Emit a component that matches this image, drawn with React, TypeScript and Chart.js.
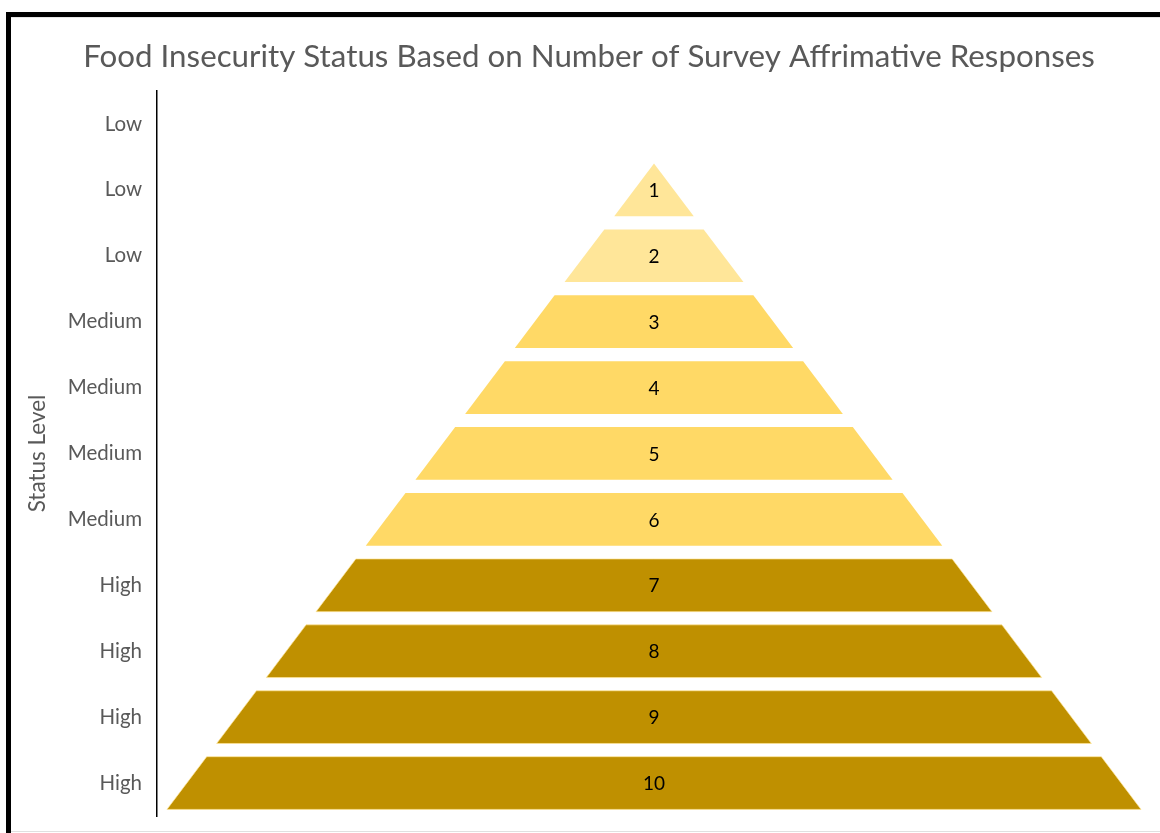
import React, { useEffect, useRef } from 'react';
import { Chart, registerables } from 'chart.js';

Chart.register(...registerables);

// ---- data ----
const chartTitle = 'Food Insecurity Status Based on Number of Survey Affrimative Responses';
const yAxisTitle = 'Status Level';
const statusLabels = ['Low', 'Low', 'Low', 'Medium', 'Medium', 'Medium', 'Medium', 'High', 'High', 'High', 'High'];
// number of affirmative responses shown in each row (first row has no slice)
const responses: (number | null)[] = [null, 1, 2, 3, 4, 5, 6, 7, 8, 9, 10];
const statusColors: Record<string, string> = {
  Low: '#FFE699',
  Medium: '#FFD966',
  High: '#BF9000',
};
const maxResponses = 10;

const FONT = 'Lato, "Open Sans", sans-serif';

const pyramidPlugin = {
  id: 'pyramidSlices',
  afterDatasetsDraw(chart: any) {
    const meta = chart.getDatasetMeta(0);
    const xs = chart.scales.x;
    const ys = chart.scales.y;
    const ctx: CanvasRenderingContext2D = chart.ctx;
    const cx = xs.getPixelForValue(0);
    const unit = xs.getPixelForValue(1) - cx;
    const band = ys.getPixelForValue(1) - ys.getPixelForValue(0);
    ctx.save();
    meta.data.forEach((el: any, i: number) => {
      const k = responses[i];
      if (k == null) return;
      const { y, height } = el.getProps(['y', 'height'], true);
      const top = y - height / 2;
      const bot = y + height / 2;
      const topHW = (k - 1) * unit;
      const botHW = topHW + (unit * height) / band;
      ctx.beginPath();
      ctx.moveTo(cx - topHW, top);
      ctx.lineTo(cx + topHW, top);
      ctx.lineTo(cx + botHW, bot);
      ctx.lineTo(cx - botHW, bot);
      ctx.closePath();
      ctx.fillStyle = statusColors[statusLabels[i]];
      ctx.fill();
      if (statusLabels[i] === 'High') {
        ctx.strokeStyle = 'rgba(255, 230, 153, 0.7)';
        ctx.lineWidth = 1;
        ctx.stroke();
      }
      ctx.fillStyle = '#000000';
      ctx.font = `19px ${FONT}`;
      ctx.textAlign = 'center';
      ctx.textBaseline = 'middle';
      ctx.fillText(String(k), cx, y + 1);
    });
    ctx.restore();
  },
};

export default function App() {
  const ref = useRef<HTMLCanvasElement | null>(null);

  useEffect(() => {
    if (!ref.current) return;
    const chart = new Chart(ref.current, {
      type: 'bar',
      data: {
        labels: statusLabels,
        datasets: [
          {
            label: 'Responses',
            data: responses.map((k) => (k == null ? null : [-k, k])) as any,
            backgroundColor: 'rgba(0,0,0,0)',
            borderWidth: 0,
            barPercentage: 0.8,
            categoryPercentage: 1,
          },
        ],
      },
      options: {
        indexAxis: 'y',
        animation: false,
        responsive: false,
        maintainAspectRatio: false,
        layout: { padding: { top: 17, left: 11, right: 0, bottom: 17 } },
        plugins: {
          legend: { display: false },
          tooltip: { enabled: false },
          title: {
            display: true,
            text: chartTitle,
            color: '#595959',
            font: { family: FONT, size: 31.3, weight: 'normal' as any, lineHeight: 1.2 },
            padding: { top: 21.2, bottom: 15.2 },
          },
        },
        scales: {
          x: {
            type: 'linear',
            display: false,
            min: -maxResponses,
            max: maxResponses,
          },
          y: {
            type: 'category',
            afterFit: (scale: any) => {
              scale.width = 146;
              scale.paddingTop = 0;
              scale.paddingBottom = 0;
            },
            grid: { display: false, drawTicks: false },
            border: { display: true, color: '#000000', width: 1.5 },
            ticks: {
              color: '#595959',
              font: { family: FONT, size: 20.5, lineHeight: 1.2 },
              padding: 15,
            },
            title: {
              display: true,
              text: yAxisTitle,
              color: '#595959',
              font: { family: FONT, size: 22.5, lineHeight: 1.2 },
              padding: { top: 13.5, bottom: 0 },
            },
          },
          yRight: {
            type: 'linear',
            position: 'right',
            display: true,
            min: 0,
            max: 1,
            afterFit: (scale: any) => {
              scale.width = 16;
              scale.paddingTop = 0;
              scale.paddingBottom = 0;
            },
            grid: { display: false, drawTicks: false },
            border: { display: false },
            ticks: { display: false },
          },
        },
      },
      plugins: [pyramidPlugin],
    });
    return () => chart.destroy();
  }, []);

  return (
    <div style={{ position: 'absolute', left: 0, top: 0, width: 1160, height: 833, overflow: 'hidden', background: '#ffffff' }}>
      <canvas ref={ref} width={1167} height={833} style={{ position: 'absolute', left: 0, top: 0, width: 1167, height: 833 }} />
      <div style={{ position: 'absolute', left: 6, top: 12, width: 1160, height: 5, background: '#000' }} />
      <div style={{ position: 'absolute', left: 6, top: 12, width: 5, height: 821, background: '#000' }} />
      <div style={{ position: 'absolute', left: 11, top: 17, width: 1160, height: 1, background: '#e6e6e6' }} />
      <div style={{ position: 'absolute', left: 11, top: 831, width: 1160, height: 1, background: '#e0e0e0' }} />
    </div>
  );
}
